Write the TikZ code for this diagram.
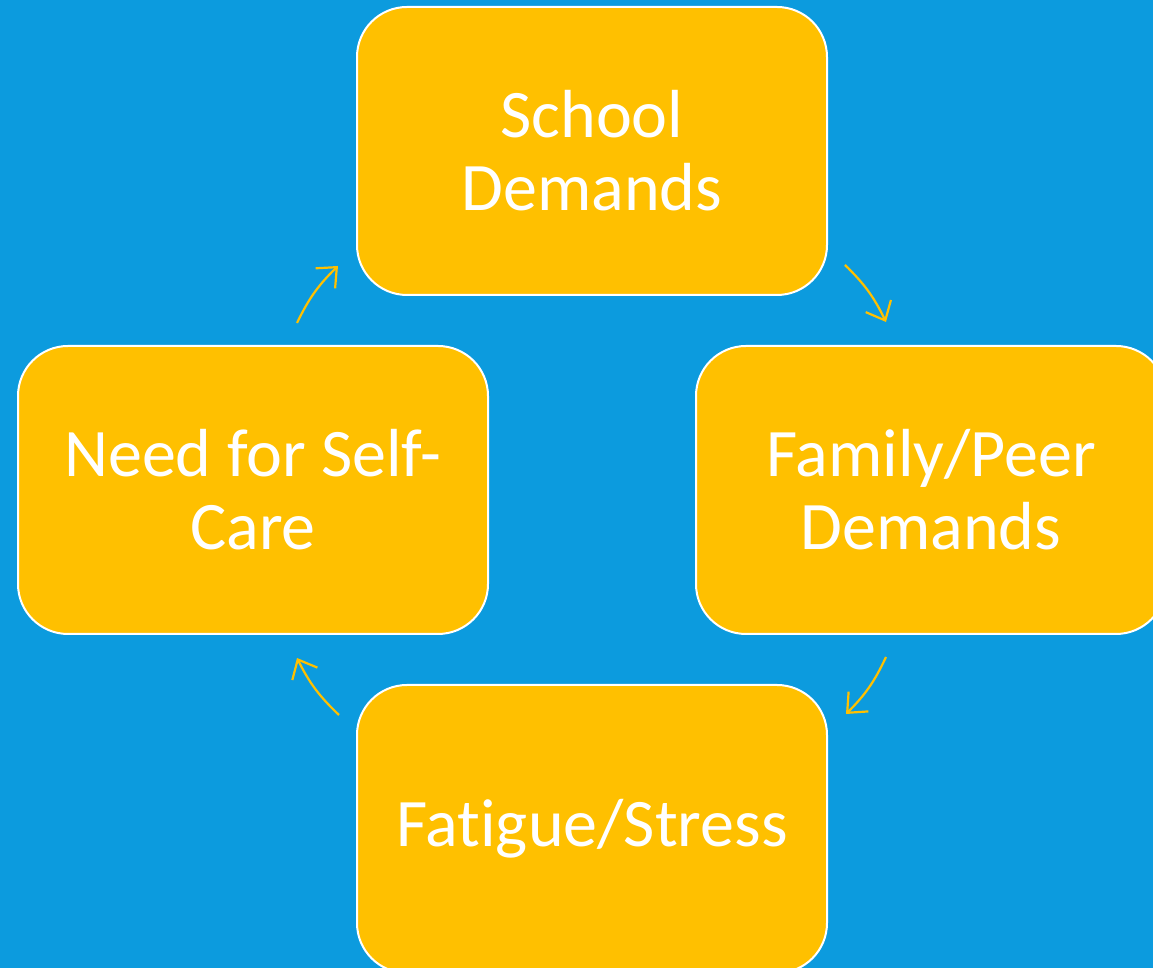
\documentclass[tikz,border=0pt]{standalone}
\usepackage{fontspec}
\setmainfont{Carlito}[Ligatures=NoCommon]
\usepackage{tikz}
\usetikzlibrary{arrows.meta}

\definecolor{skyblue}{RGB}{12,155,222}
\definecolor{amber}{RGB}{255,192,0}

\begin{document}
\begin{tikzpicture}[
  x=0.5pt, y=0.5pt,
  every node/.style={font=\fontsize{34}{36.5}\selectfont, text=white},
  stage/.style={draw=white, line width=1pt, fill=amber, rounded corners=25pt,
    minimum width=235pt, minimum height=144pt, inner sep=0pt, align=center},
  cycle/.style={draw=amber, line width=1.1pt, bend left=10,
    -{Straight Barb[length=8pt, width=14pt]}},
]
\path[use as bounding box, clip] (0,0) rectangle (1153,968);
\fill[skyblue] (0,0) rectangle (1153,968);

\node[stage] (school) at (592,817) {School\\Demands};
\node[stage] (family) at (931,478) {Family/Peer\\Demands};
\node[stage] (fatigue) at (592,139) {Fatigue/Stress};
\node[stage] (selfcare) at (253,478) {Need for Self-\\Care};

% free arrow ends between the boxes
\coordinate (s1) at (297,645);  \coordinate (e1) at (338,702);
\coordinate (s2) at (845,703);  \coordinate (e2) at (886,646);
\coordinate (s3) at (886,311);  \coordinate (e3) at (846,254);
\coordinate (s4) at (339,253);  \coordinate (e4) at (297,310);

\draw[cycle] (s1) to (e1);
\draw[cycle] (s2) to (e2);
\draw[cycle] (s3) to (e3);
\draw[cycle] (s4) to (e4);
\end{tikzpicture}
\end{document}
